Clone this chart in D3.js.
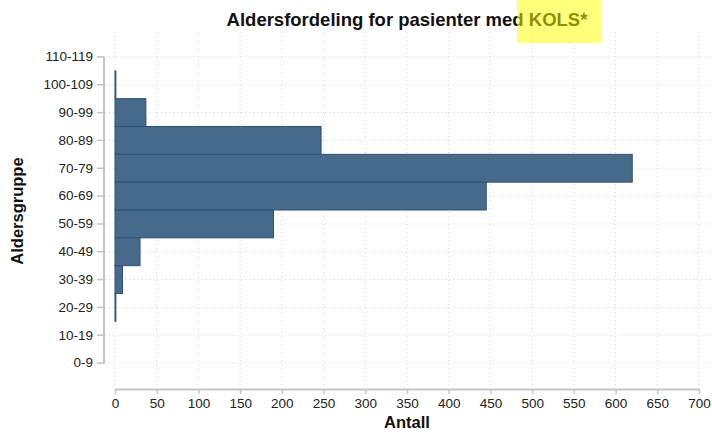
<!DOCTYPE html>
<html>
<head>
<meta charset="utf-8">
<script src="https://cdn.jsdelivr.net/npm/d3@7"></script>
<style>
  body { margin: 0; background: #fff; }
  text { font-family: "Liberation Sans", Arial, sans-serif; }
</style>
</head>
<body>
<div id="chart"></div>
<script>
// age groups, top to bottom as shown
const groups = ["110-119", "100-109", "90-99", "80-89", "70-79", "60-69",
  "50-59", "40-49", "30-39", "20-29", "10-19", "0-9"];
// number of patients per age group
const counts = [0, 1, 37, 247, 620, 445, 190, 30, 9, 1, 0, 0];
const xTicks = [0, 50, 100, 150, 200, 250, 300, 350, 400, 450, 500, 550, 600, 650, 700];

const data = groups.map((g, i) => ({ group: g, value: counts[i] }));

const width = 712, height = 435;

const svg = d3.select("#chart").append("svg")
  .attr("width", width)
  .attr("height", height);

const x = d3.scaleLinear().domain([0, 700]).range([115, 699]);
const y = d3.scaleBand().domain(groups).range([43, 377]).padding(0);

// grid
const grid = svg.append("g").attr("class", "grid");
grid.selectAll("line.v")
  .data(xTicks)
  .enter().append("line")
  .attr("x1", d => x(d)).attr("x2", d => x(d))
  .attr("y1", 32).attr("y2", 386)
  .attr("stroke", "#d4d4d4")
  .attr("stroke-dasharray", "1,3");
grid.selectAll("line.h")
  .data(groups)
  .enter().append("line")
  .attr("x1", 105).attr("x2", 712)
  .attr("y1", d => y(d) + y.bandwidth() / 2)
  .attr("y2", d => y(d) + y.bandwidth() / 2)
  .attr("stroke", "#d4d4d4")
  .attr("stroke-dasharray", "1,3");

// bars
svg.append("g").selectAll("rect")
  .data(data.filter(d => d.value > 0))
  .enter().append("rect")
  .attr("x", x(0))
  .attr("y", d => y(d.group))
  .attr("width", d => x(d.value) - x(0))
  .attr("height", y.bandwidth())
  .attr("fill", "#476a8b")
  .attr("stroke", "#2d5275")
  .attr("stroke-width", 1);

// y axis
const yAxis = svg.append("g")
  .attr("transform", "translate(104,0)")
  .call(d3.axisLeft(y).tickSize(7).tickPadding(4));
yAxis.select(".domain").remove();
yAxis.append("line")
  .attr("x1", 0).attr("x2", 0)
  .attr("y1", y(groups[0]) + y.bandwidth() / 2)
  .attr("y2", y(groups[groups.length - 1]) + y.bandwidth() / 2)
  .attr("stroke", "#c4c4c4").attr("stroke-width", 2);

// x axis
const xAxis = svg.append("g")
  .attr("transform", "translate(0,389)")
  .call(d3.axisBottom(x).tickValues(xTicks).tickSize(5).tickPadding(4).tickSizeOuter(0));
xAxis.select(".domain").attr("stroke", "#c4c4c4").attr("stroke-width", 2);

svg.selectAll(".tick line").attr("stroke", "#c4c4c4").attr("stroke-width", 1.5);
svg.selectAll(".tick text")
  .attr("font-family", "Liberation Sans, Arial, sans-serif")
  .attr("font-size", 13.5)
  .attr("fill", "#222");

// titles
svg.append("text")
  .attr("x", 407).attr("y", 26)
  .attr("text-anchor", "middle")
  .attr("font-size", 18.5)
  .attr("font-weight", "bold")
  .attr("fill", "#111")
  .text("Aldersfordeling for pasienter med KOLS*");

svg.append("text")
  .attr("x", 407).attr("y", 428)
  .attr("text-anchor", "middle")
  .attr("font-size", 16.5)
  .attr("font-weight", "bold")
  .attr("fill", "#111")
  .text("Antall");

svg.append("text")
  .attr("transform", "translate(23,211) rotate(-90)")
  .attr("text-anchor", "middle")
  .attr("font-size", 16.5)
  .attr("font-weight", "bold")
  .attr("fill", "#111")
  .text("Aldersgruppe");

// highlighter mark over KOLS
svg.append("rect")
  .attr("x", 517).attr("y", 0)
  .attr("width", 84).attr("height", 43)
  .attr("fill", "#ffff00")
  .attr("opacity", 0.52);
</script>
</body>
</html>
